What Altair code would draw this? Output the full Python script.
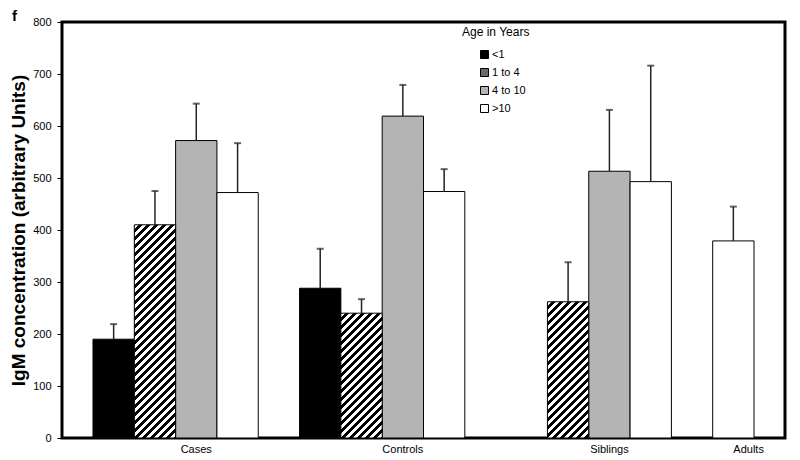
import altair as alt
import pandas as pd

# ---- data ----
groups = ["Cases", "Controls", "Siblings", "Adults"]
ages = ["<1", "1 to 4", "4 to 10", ">10"]
adult_ages = [">10"]

cases_mean = [190, 410, 572, 472]
controls_mean = [288, 240, 619, 474]
siblings_mean = [None, 262, 513, 493]
adults_mean = [379]

cases_err = [29, 65, 71, 95]
controls_err = [76, 27, 60, 43]
siblings_err = [None, 76, 118, 223]
adults_err = [66]

y_ticks = [0, 100, 200, 300, 400, 500, 600, 700, 800]
panel_letter = ["f"]

# ---- build table ----
series = [
    ("Cases", ages, cases_mean, cases_err),
    ("Controls", ages, controls_mean, controls_err),
    ("Siblings", ages, siblings_mean, siblings_err),
    ("Adults", adult_ages, adults_mean, adults_err),
]
rows = []
slot_domain = []
for gi, (g, alist, means, errs) in enumerate(series):
    for a, m, e in zip(alist, means, errs):
        slot = f"{g}|{a}"
        slot_domain.append(slot)
        if m is not None:
            rows.append({"slot": slot, "group": g, "age": a, "mean": m, "top": m + e})
    if gi < len(series) - 1:
        slot_domain.append(f"gap{gi}")
df = pd.DataFrame(rows)

W, H = 723, 416
PAD_OUTER = 0.75
step = W / (len(slot_domain) + 2 * PAD_OUTER)
px_per_unit = H / y_ticks[-1]


def hatch(h, w=step, period=8.0, black=0.45):
    total = w + h
    stops = []
    k = 0
    while k * period < total:
        a = k * period / total
        b = min((k * period + period * (1 - black)) / total, 1.0)
        c = min((k + 1) * period / total, 1.0)
        stops += [
            alt.GradientStop(offset=a, color="white"),
            alt.GradientStop(offset=b, color="white"),
            alt.GradientStop(offset=b, color="black"),
            alt.GradientStop(offset=c, color="black"),
        ]
        k += 1
    s = (w + h) / (w * w + h * h)
    return alt.LinearGradient(gradient="linear", stops=stops,
                              x1=0, y1=0, x2=s * w, y2=s * h)


label_expr = ("datum.value == 'Cases|4 to 10' ? 'Cases' : "
              "datum.value == 'Controls|4 to 10' ? 'Controls' : "
              "datum.value == 'Siblings|4 to 10' ? 'Siblings' : "
              "datum.value == 'Adults|>10' ? 'Adults' : ''")

x_enc = alt.X(
    "slot:N",
    scale=alt.Scale(domain=slot_domain, paddingInner=0, paddingOuter=PAD_OUTER),
    axis=alt.Axis(
        title=None, domain=False, ticks=False, bandPosition=0,
        labelExpr=label_expr, labelAngle=0, labelFontSize=11,
        labelPadding=5, labelOverlap=False, labelFlush=False,
        labelAlign={"condition": {"test": "datum.value == 'Adults|>10'", "value": "left"},
                    "value": "center"},
    ),
)
y_enc = alt.Y(
    "mean:Q",
    scale=alt.Scale(domain=[0, 800], nice=False),
    axis=alt.Axis(
        values=y_ticks, grid=False, domain=False, tickColor="black",
        tickSize=5, labelPadding=6, labelFontSize=11,
        title="IgM concentration (arbitrary Units)", titleFontSize=19,
        titleFontWeight="bold", titlePadding=4,
    ),
)

base = alt.Chart(df)

fill_range = ["black", "#6b6b6b", "#b4b4b4", "white"]
solid = base.transform_filter(alt.datum.age != "1 to 4").mark_bar(
    stroke="black", strokeWidth=1
).encode(
    x=x_enc, y=y_enc,
    fill=alt.Fill(
        "age:N",
        scale=alt.Scale(domain=ages, range=fill_range),
        legend=alt.Legend(
            orient="none", legendX=400, legendY=5, title="Age in Years",
            titleFontSize=12, titleFontWeight="normal", titlePadding=10,
            labelFontSize=11, symbolType="square", symbolSize=64,
            symbolStrokeColor="black", symbolStrokeWidth=1, rowPadding=5,
            symbolOffset=17, padding=0, labelOffset=2,
        ),
    ),
)

hatch_layers = []
for r in rows:
    if r["age"] == "1 to 4":
        h = r["mean"] * px_per_unit
        hatch_layers.append(
            base.transform_filter(alt.datum.slot == r["slot"]).mark_bar(
                fill=hatch(h), stroke="black", strokeWidth=1
            ).encode(x=x_enc, y=y_enc)
        )

err_rule = base.mark_rule(color="#222", strokeWidth=1.5).encode(
    x=x_enc, y=y_enc, y2="top:Q"
)
err_cap = base.mark_tick(color="#222", thickness=2, size=7).encode(
    x=x_enc, y=alt.Y("top:Q")
)

letter = alt.Chart(pd.DataFrame({"t": panel_letter})).mark_text(
    fontSize=15, fontWeight="bold", align="left", baseline="alphabetic"
).encode(x=alt.value(-50), y=alt.value(-1), text="t:N")

chart = alt.layer(solid, *hatch_layers, err_rule, err_cap, letter).properties(
    width=W, height=H,
    autosize=alt.AutoSizeParams(type="none"),
    padding={"left": 54, "top": 14, "right": 7, "bottom": 22},
).configure(
    font="Liberation Sans"
).configure_view(
    stroke="black", strokeWidth=3
).configure_axis(
    labelColor="black", titleColor="black"
)

chart.save("out.html", embed_options={"renderer": "svg", "actions": False})
